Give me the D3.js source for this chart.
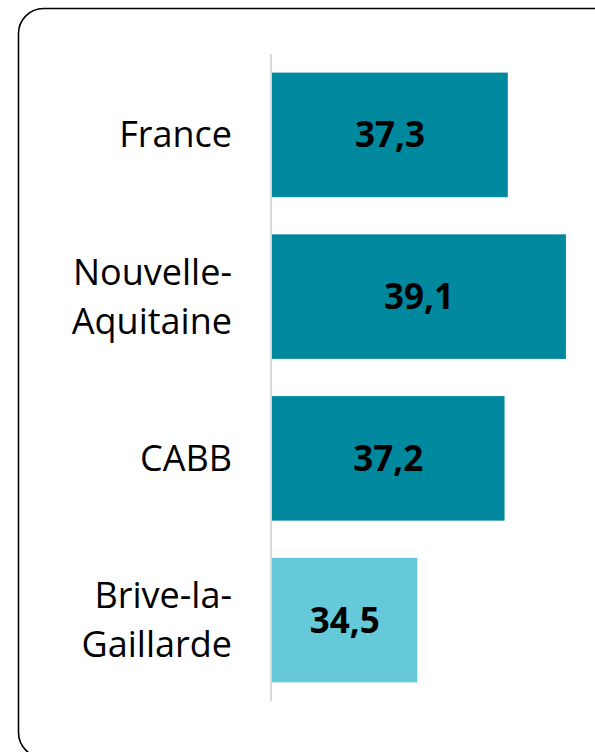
<!DOCTYPE html>
<html lang="fr">
<head>
<meta charset="utf-8">
<title>Barres horizontales</title>
<script src="https://cdn.jsdelivr.net/npm/d3@7"></script>
<style>
  body { margin: 0; background: #fff; }
  svg { display: block; }
</style>
</head>
<body>
<script>
// donnees
var categories = ["France", "Nouvelle-Aquitaine", "CABB", "Brive-la-Gaillarde"];
var lignes = [["France"], ["Nouvelle-", "Aquitaine"], ["CABB"], ["Brive-la-", "Gaillarde"]];
var valeurs = [37.3, 39.1, 37.2, 34.5];
var couleurs = ["#00889e", "#00889e", "#00889e", "#66c9d9"];

var w = 595, h = 752;

var svg = d3.select("body").append("svg")
  .attr("width", w)
  .attr("height", h);

// cadre arrondi
svg.append("rect")
  .attr("x", 18.5)
  .attr("y", 8.5)
  .attr("width", 640)
  .attr("height", 749)
  .attr("rx", 25)
  .attr("fill", "none")
  .attr("stroke", "#000")
  .attr("stroke-width", 1.6);

var x = d3.scaleLinear().domain([30, 40]).range([272, 595]);
var y = d3.scaleBand()
  .domain(categories)
  .range([54, 701])
  .paddingInner(0.23)
  .paddingOuter(0.115);

// barres
svg.selectAll("rect.bar")
  .data(valeurs)
  .enter()
  .append("rect")
  .attr("class", "bar")
  .attr("x", x(30))
  .attr("y", function (d, i) { return y(categories[i]); })
  .attr("width", function (d) { return x(d) - x(30); })
  .attr("height", y.bandwidth())
  .attr("fill", function (d, i) { return couleurs[i]; });

// axe vertical
svg.append("line")
  .attr("x1", x(30) - 1).attr("x2", x(30) - 1)
  .attr("y1", 54).attr("y2", 701)
  .attr("stroke", "#d9d9d9")
  .attr("stroke-width", 2);

// etiquettes des categories
var lh = 49;
svg.selectAll("text.cat")
  .data(categories)
  .enter()
  .append("text")
  .attr("class", "cat")
  .attr("text-anchor", "end")
  .style("font-family", "'Open Sans', sans-serif")
  .style("font-size", "36px")
  .attr("fill", "#000")
  .each(function (d, i) {
    var ls = lignes[i];
    var cy = y(d) + y.bandwidth() / 2;
    var t = d3.select(this);
    ls.forEach(function (s, j) {
      t.append("tspan")
        .attr("x", 232)
        .attr("y", cy + (j - (ls.length - 1) / 2) * lh)
        .attr("dy", "0.35em")
        .text(s);
    });
  });

// valeurs
svg.selectAll("text.val")
  .data(valeurs)
  .enter()
  .append("text")
  .attr("class", "val")
  .attr("x", function (d) { return (x(30) + x(d)) / 2; })
  .attr("y", function (d, i) { return y(categories[i]) + y.bandwidth() / 2; })
  .attr("dy", "0.36em")
  .attr("text-anchor", "middle")
  .style("font-family", "'Open Sans', sans-serif")
  .style("font-size", "35px")
  .style("font-weight", "bold")
  .attr("fill", "#000")
  .text(function (d) { return d3.format(".1f")(d).replace(".", ","); });
</script>
</body>
</html>
